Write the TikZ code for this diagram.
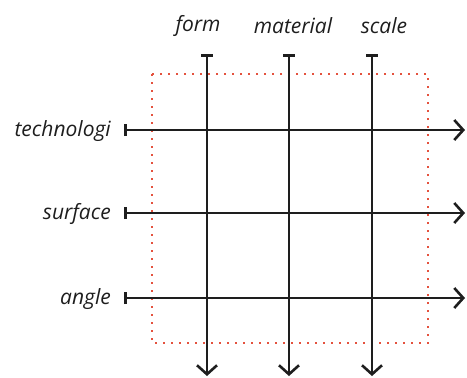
\documentclass[tikz,border=0pt]{standalone}
\usepackage{fontspec}
\setmainfont{Open Sans}
\usetikzlibrary{arrows.meta}
\definecolor{dotred}{RGB}{228,82,62}
\definecolor{ink}{RGB}{30,30,30}
\tikzset{
  axis/.style={draw=ink, line width=2.6pt, {Bar[width=12pt,line width=2.6pt]}-{Straight Barb[length=9pt,width=20pt,line width=2.6pt]}},
  lbl/.style={font=\itshape\fontsize{21}{23}\selectfont, text=ink, inner sep=0pt},
  frame/.style={draw=dotred, line width=2pt, dash pattern=on 2pt off 6pt}
}
\begin{document}
\begin{tikzpicture}[x=1pt,y=-1pt]
\useasboundingbox (0,0) rectangle (467,378);
% frame
\draw[frame] (152,74) rectangle (428,343);
% vertical axes
\coordinate (v1s) at (207,54); \coordinate (v1e) at (207,376);
\coordinate (v2s) at (289,54); \coordinate (v2e) at (289,376);
\coordinate (v3s) at (372,54); \coordinate (v3e) at (372,376);
\draw[axis] (v1s) -- (v1e);
\draw[axis] (v2s) -- (v2e);
\draw[axis] (v3s) -- (v3e);
% horizontal axes
\coordinate (h1s) at (124,130); \coordinate (h1e) at (465,130);
\coordinate (h2s) at (124,213); \coordinate (h2e) at (465,213);
\coordinate (h3s) at (124,298); \coordinate (h3e) at (465,298);
\draw[axis] (h1s) -- (h1e);
\draw[axis] (h2s) -- (h2e);
\draw[axis] (h3s) -- (h3e);
% labels
\node[lbl] (form) at (198,26) {form};
\node[lbl] (material) at (293,26) {material};
\node[lbl] (scale) at (384,26) {scale};
\node[lbl, anchor=east] (tech) at (111,131) {technologi};
\node[lbl, anchor=east] (surf) at (111,214) {surface};
\node[lbl, anchor=east] (angle) at (111,299) {angle};
\end{tikzpicture}
\end{document}
